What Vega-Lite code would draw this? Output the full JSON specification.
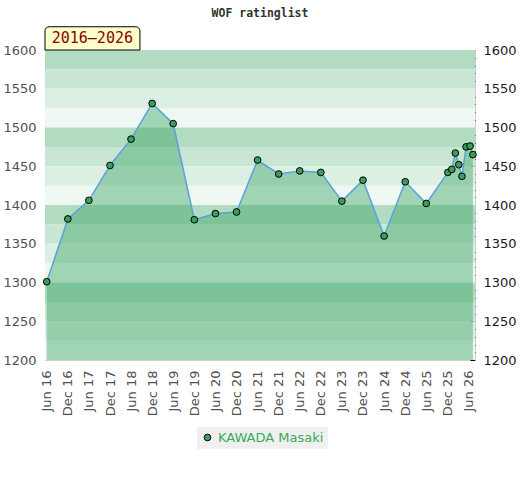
{
  "$schema": "https://vega.github.io/schema/vega-lite/v6.json",
  "width": 430,
  "height": 310,
  "autosize": "none",
  "padding": {"left": 45, "top": 50, "right": 45, "bottom": 120},
  "title": {
    "text": "WOF ratinglist",
    "font": "DejaVu Sans Mono",
    "fontSize": 11.5,
    "fontWeight": "bold",
    "color": "#333333",
    "anchor": "middle",
    "offset": 7
  },
  "datasets": {
    "ratings": [
      {"date": "2016-06-01", "rating": 1301, "player": "KAWADA Masaki"},
      {"date": "2016-12-01", "rating": 1382, "player": "KAWADA Masaki"},
      {"date": "2017-06-01", "rating": 1406, "player": "KAWADA Masaki"},
      {"date": "2017-12-01", "rating": 1451, "player": "KAWADA Masaki"},
      {"date": "2018-06-01", "rating": 1485, "player": "KAWADA Masaki"},
      {"date": "2018-12-01", "rating": 1531, "player": "KAWADA Masaki"},
      {"date": "2019-06-01", "rating": 1505, "player": "KAWADA Masaki"},
      {"date": "2019-12-01", "rating": 1381, "player": "KAWADA Masaki"},
      {"date": "2020-06-01", "rating": 1389, "player": "KAWADA Masaki"},
      {"date": "2020-12-01", "rating": 1391, "player": "KAWADA Masaki"},
      {"date": "2021-06-01", "rating": 1458, "player": "KAWADA Masaki"},
      {"date": "2021-12-01", "rating": 1440, "player": "KAWADA Masaki"},
      {"date": "2022-06-01", "rating": 1444, "player": "KAWADA Masaki"},
      {"date": "2022-12-01", "rating": 1442, "player": "KAWADA Masaki"},
      {"date": "2023-06-01", "rating": 1405, "player": "KAWADA Masaki"},
      {"date": "2023-12-01", "rating": 1432, "player": "KAWADA Masaki"},
      {"date": "2024-06-01", "rating": 1360, "player": "KAWADA Masaki"},
      {"date": "2024-12-01", "rating": 1430, "player": "KAWADA Masaki"},
      {"date": "2025-06-01", "rating": 1402, "player": "KAWADA Masaki"},
      {"date": "2025-12-05", "rating": 1442, "player": "KAWADA Masaki"},
      {"date": "2026-01-08", "rating": 1446, "player": "KAWADA Masaki"},
      {"date": "2026-02-08", "rating": 1467, "player": "KAWADA Masaki"},
      {"date": "2026-03-10", "rating": 1452, "player": "KAWADA Masaki"},
      {"date": "2026-04-06", "rating": 1437, "player": "KAWADA Masaki"},
      {"date": "2026-05-12", "rating": 1475, "player": "KAWADA Masaki"},
      {"date": "2026-06-15", "rating": 1476, "player": "KAWADA Masaki"},
      {"date": "2026-07-10", "rating": 1465, "player": "KAWADA Masaki"}
    ],
    "bands": [
      {"lo": 1575, "hi": 1600, "tone": "a"},
      {"lo": 1550, "hi": 1575, "tone": "b"},
      {"lo": 1525, "hi": 1550, "tone": "c"},
      {"lo": 1500, "hi": 1525, "tone": "d"},
      {"lo": 1475, "hi": 1500, "tone": "a"},
      {"lo": 1450, "hi": 1475, "tone": "b"},
      {"lo": 1425, "hi": 1450, "tone": "c"},
      {"lo": 1400, "hi": 1425, "tone": "d"},
      {"lo": 1375, "hi": 1400, "tone": "a"},
      {"lo": 1350, "hi": 1375, "tone": "b"},
      {"lo": 1325, "hi": 1350, "tone": "c"},
      {"lo": 1300, "hi": 1325, "tone": "d"},
      {"lo": 1275, "hi": 1300, "tone": "a"},
      {"lo": 1250, "hi": 1275, "tone": "b"},
      {"lo": 1225, "hi": 1250, "tone": "c"},
      {"lo": 1200, "hi": 1225, "tone": "d"}
    ],
    "tag": [{"label": "2016–2026"}]
  },
  "layer": [
    {
      "data": {"name": "bands"},
      "mark": {"type": "rect"},
      "encoding": {
        "y": {
          "field": "lo",
          "type": "quantitative",
          "scale": {"domain": [1200, 1600], "zero": false, "nice": false},
          "axis": {
            "orient": "left",
            "title": null,
            "format": "d",
            "values": [1200, 1250, 1300, 1350, 1400, 1450, 1500, 1550, 1600],
            "tickCount": 20,
            "ticks": false,
            "tickSize": 0,
            "labelPadding": 9,
            "labelColor": "#505050",
            "domainColor": "#d0d0d0",
            "grid": false
          }
        },
        "y2": {"field": "hi"},
        "color": {
          "field": "tone",
          "type": "nominal",
          "scale": {"domain": ["a", "b", "c", "d"], "range": ["#b2dcc2", "#c8e6d3", "#dcefe3", "#eff7f2"]},
          "legend": null
        }
      }
    },
    {
      "data": {"name": "ratings"},
      "mark": {"type": "area", "color": "#2e9e5b", "opacity": 0.4},
      "encoding": {
        "x": {
          "field": "date",
          "type": "temporal",
          "scale": {
            "type": "utc",
            "domain": [
              {"year": 2016, "month": 5, "date": 17, "utc": true},
              {"year": 2026, "month": 7, "date": 28, "utc": true}
            ]
          },
          "axis": {
            "title": null,
            "format": "%b %y",
            "tickCount": 30,
            "labelAngle": -90,
            "labelAlign": "right",
            "labelBaseline": "middle",
            "labelPadding": 10,
            "labelOverlap": false,
            "labelFlush": false,
            "ticks": false,
            "tickSize": 0,
            "grid": false,
            "labelColor": "#505050",
            "domainColor": "#d0d0d0",
            "values": [
              {"year": 2016, "month": 6, "date": 1, "utc": true},
              {"year": 2016, "month": 12, "date": 1, "utc": true},
              {"year": 2017, "month": 6, "date": 1, "utc": true},
              {"year": 2017, "month": 12, "date": 1, "utc": true},
              {"year": 2018, "month": 6, "date": 1, "utc": true},
              {"year": 2018, "month": 12, "date": 1, "utc": true},
              {"year": 2019, "month": 6, "date": 1, "utc": true},
              {"year": 2019, "month": 12, "date": 1, "utc": true},
              {"year": 2020, "month": 6, "date": 1, "utc": true},
              {"year": 2020, "month": 12, "date": 1, "utc": true},
              {"year": 2021, "month": 6, "date": 1, "utc": true},
              {"year": 2021, "month": 12, "date": 1, "utc": true},
              {"year": 2022, "month": 6, "date": 1, "utc": true},
              {"year": 2022, "month": 12, "date": 1, "utc": true},
              {"year": 2023, "month": 6, "date": 1, "utc": true},
              {"year": 2023, "month": 12, "date": 1, "utc": true},
              {"year": 2024, "month": 6, "date": 1, "utc": true},
              {"year": 2024, "month": 12, "date": 1, "utc": true},
              {"year": 2025, "month": 6, "date": 1, "utc": true},
              {"year": 2025, "month": 12, "date": 1, "utc": true},
              {"year": 2026, "month": 6, "date": 1, "utc": true}
            ]
          }
        },
        "y": {
          "field": "rating",
          "type": "quantitative",
          "axis": {
            "orient": "right",
            "title": null,
            "format": "d",
            "values": [1200, 1250, 1300, 1350, 1400, 1450, 1500, 1550, 1600],
            "tickCount": 20,
            "tickSize": -5,
            "tickColor": "#000000",
            "labelPadding": 13,
            "labelColor": "#1a1a1a",
            "domainColor": "#d0d0d0",
            "grid": false
          }
        },
        "y2": {"datum": 1200}
      }
    },
    {
      "data": {"name": "ratings"},
      "transform": [{"filter": {"field": "date", "oneOf": ["2016-06-01", "2026-07-10"]}}],
      "mark": {"type": "rule", "color": "#3a9a5c", "strokeWidth": 1.2},
      "encoding": {
        "x": {"field": "date", "type": "temporal"},
        "y": {"field": "rating", "type": "quantitative", "axis": null},
        "y2": {"datum": 1200}
      }
    },
    {
      "data": {"name": "ratings"},
      "mark": {"type": "line", "color": "#5aa2dc", "strokeWidth": 1.5},
      "encoding": {
        "x": {"field": "date", "type": "temporal"},
        "y": {
          "field": "rating",
          "type": "quantitative",
          "axis": {
            "orient": "right",
            "title": null,
            "values": [1210, 1220, 1230, 1240, 1260, 1270, 1280, 1290, 1310, 1320, 1330, 1340, 1360, 1370, 1380, 1390, 1410, 1420, 1430, 1440, 1460, 1470, 1480, 1490, 1510, 1520, 1530, 1540, 1560, 1570, 1580, 1590],
            "tickCount": 50,
            "labels": false,
            "domain": false,
            "grid": false,
            "tickSize": -3,
            "tickColor": "#000000"
          }
        }
      }
    },
    {
      "data": {"name": "ratings"},
      "mark": {"type": "point", "filled": true, "size": 45, "stroke": "#000000", "strokeWidth": 1, "opacity": 1},
      "encoding": {
        "x": {"field": "date", "type": "temporal"},
        "y": {"field": "rating", "type": "quantitative", "axis": null},
        "color": {
          "field": "player",
          "type": "nominal",
          "scale": {"domain": ["KAWADA Masaki"], "range": ["#3a9d5c"]},
          "legend": {
            "title": null,
            "orient": "none",
            "legendX": 152,
            "legendY": 377,
            "labelColor": "#3aaa5a",
            "labelFontSize": 13,
            "labelFont": "DejaVu Sans",
            "fillColor": "#f0f0f0",
            "padding": 4,
            "symbolType": "circle",
            "symbolSize": 45,
            "symbolStrokeColor": "#000000",
            "symbolStrokeWidth": 1,
            "symbolOpacity": 1
          }
        }
      }
    },
    {
      "data": {"name": "tag"},
      "mark": {"type": "rect", "fill": "#ffffcc", "stroke": "#000000", "strokeWidth": 1, "clip": false, "cornerRadiusTopLeft": 4, "cornerRadiusTopRight": 4},
      "encoding": {
        "x": {"datum": {"year": 2016, "month": 5, "date": 17, "utc": true}, "type": "temporal"},
        "x2": {"datum": {"year": 2018, "month": 8, "date": 17, "utc": true}},
        "y": {"datum": 1600, "type": "quantitative", "axis": null},
        "y2": {"datum": 1630}
      }
    },
    {
      "data": {"name": "tag"},
      "mark": {"type": "text", "font": "DejaVu Sans Mono", "fontSize": 15, "color": "#8b0000", "align": "left", "baseline": "middle", "clip": false},
      "encoding": {
        "text": {"field": "label"},
        "x": {"datum": {"year": 2016, "month": 7, "date": 14, "utc": true}, "type": "temporal"},
        "y": {"datum": 1615, "type": "quantitative", "axis": null}
      }
    }
  ],
  "resolve": {"scale": {"color": "independent"}, "axis": {"y": "independent"}},
  "config": {
    "view": {"stroke": "#dcdcdc"},
    "axis": {"labelFont": "DejaVu Sans", "labelFontSize": 13},
    "axisX": {"labelOverlap": false},
    "legend": {"labelFont": "DejaVu Sans"}
  }
}
